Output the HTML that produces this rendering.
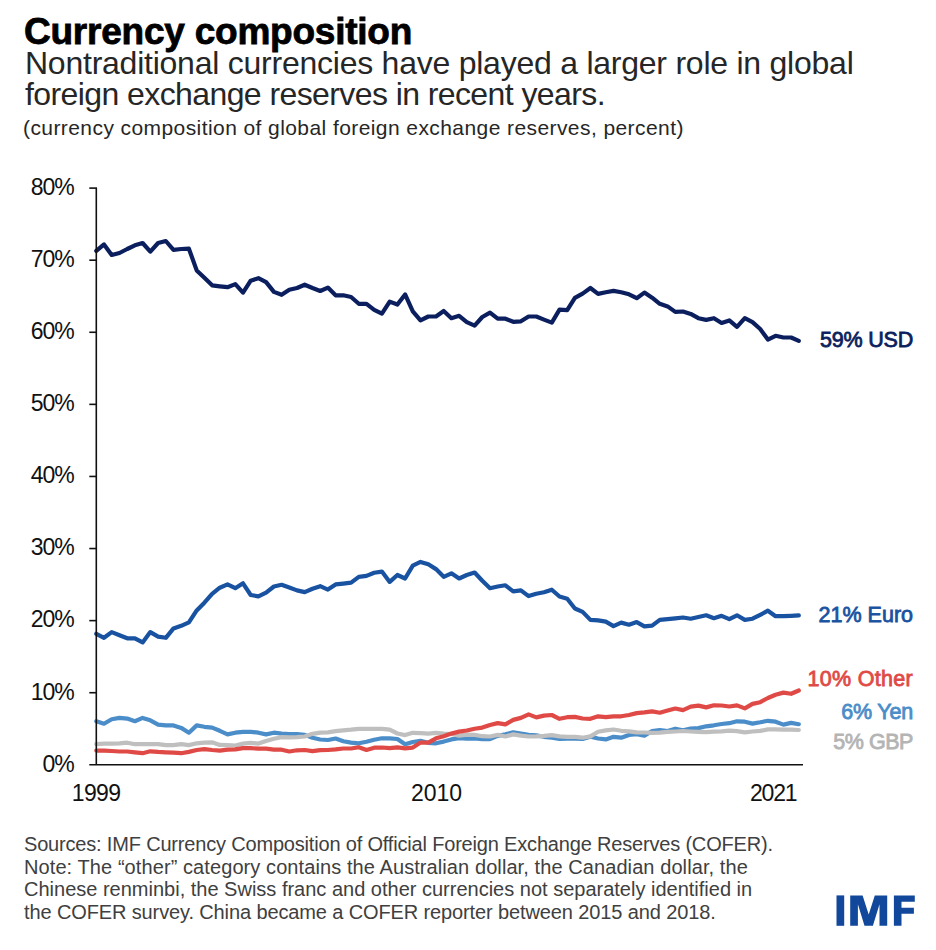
<!DOCTYPE html>
<html><head><meta charset="utf-8"><style>
html,body{margin:0;padding:0;background:#fff;width:936px;height:950px;overflow:hidden}
body{position:relative;font-family:"Liberation Sans",sans-serif}
.t{position:absolute;white-space:nowrap}
.yl{right:862.2px;font-size:23px;line-height:23px;color:#111;letter-spacing:-1.0px}
.xl{font-size:23px;line-height:23px;color:#111;top:782.2304999999999px;letter-spacing:0px}
.sl{right:23px;font-size:21.5px;line-height:21.5px;font-weight:normal;-webkit-text-stroke:0.8px currentColor}
.ft{left:24px;font-size:20px;line-height:20px;color:#404040}
svg{position:absolute;left:0;top:0}
</style></head><body>
<div class="t" style="left:24px;top:13.2px;font-size:37px;line-height:37px;font-weight:bold;color:#000;-webkit-text-stroke:0.8px #000;letter-spacing:-0.23px">Currency composition</div>
<div class="t" style="left:25px;top:46.8px;font-size:32px;line-height:32px;color:#262626;letter-spacing:-0.24px">Nontraditional currencies have played a larger role in global</div>
<div class="t" style="left:25px;top:77.8px;font-size:32px;line-height:32px;color:#262626;letter-spacing:-0.59px">foreign exchange reserves in recent years.</div>
<div class="t" style="left:23px;top:117.2235px;font-size:21px;line-height:21px;color:#262626;letter-spacing:0.42px">(currency composition of global foreign exchange reserves, percent)</div>
<div class="t yl" style="top:752.63px">0%</div>
<div class="t yl" style="top:680.55px">10%</div>
<div class="t yl" style="top:608.46px">20%</div>
<div class="t yl" style="top:536.37px">30%</div>
<div class="t yl" style="top:464.28px">40%</div>
<div class="t yl" style="top:392.19px">50%</div>
<div class="t yl" style="top:320.11px">60%</div>
<div class="t yl" style="top:248.02px">70%</div>
<div class="t yl" style="top:175.93px">80%</div>
<div class="t xl" style="left:71.7px;letter-spacing:-0.6px">1999</div>
<div class="t xl" style="left:411px;letter-spacing:0px">2010</div>
<div class="t xl" style="left:750px;letter-spacing:-1.2px">2021</div>
<svg width="936" height="950" viewBox="0 0 936 950">

<g fill="none" stroke-width="4.2" stroke-linejoin="round" stroke-linecap="round">
<path stroke="#0b1f5e" d="M96.3,250.8 L104.0,244.4 L111.7,255.0 L119.5,253.0 L127.2,249.0 L134.9,245.3 L142.6,243.0 L150.3,251.6 L158.1,243.0 L165.8,241.0 L173.5,249.9 L181.2,249.0 L188.9,248.7 L196.7,270.4 L204.4,277.8 L212.1,285.3 L219.8,286.3 L227.5,287.2 L235.3,284.1 L243.0,292.6 L250.7,280.7 L258.4,278.2 L266.1,282.1 L273.9,291.9 L281.6,294.8 L289.3,289.7 L297.0,288.0 L304.7,284.7 L312.5,288.0 L320.2,291.0 L327.9,287.6 L335.6,295.3 L343.3,295.3 L351.1,297.0 L358.8,303.8 L366.5,303.8 L374.2,309.8 L381.9,313.6 L389.7,301.6 L397.4,304.5 L405.1,294.4 L412.8,311.4 L420.5,320.4 L428.3,316.5 L436.0,316.5 L443.7,311.0 L451.4,318.2 L459.1,315.8 L466.8,322.1 L474.6,325.6 L482.3,317.0 L490.0,312.7 L497.7,318.7 L505.4,318.7 L513.2,321.8 L520.9,321.3 L528.6,316.5 L536.3,316.5 L544.0,319.6 L551.8,322.6 L559.5,309.7 L567.2,310.2 L574.9,297.9 L582.6,293.6 L590.4,288.0 L598.1,293.9 L605.8,292.2 L613.5,290.9 L621.2,292.2 L629.0,294.3 L636.7,298.2 L644.4,292.6 L652.1,297.7 L659.8,303.8 L667.6,306.4 L675.3,311.9 L683.0,311.5 L690.7,313.9 L698.4,318.2 L706.2,319.9 L713.9,318.2 L721.6,323.0 L729.3,320.4 L737.0,326.8 L744.8,318.2 L752.5,322.1 L760.2,329.0 L767.9,339.6 L775.6,335.8 L783.4,337.5 L791.1,337.5 L798.8,340.9"/>
<path stroke="#1852a0" d="M96.3,633.8 L104.0,637.8 L111.7,632.1 L119.5,635.2 L127.2,638.3 L134.9,638.3 L142.6,642.4 L150.3,632.1 L158.1,636.6 L165.8,637.8 L173.5,628.4 L181.2,625.8 L188.9,622.4 L196.7,610.4 L204.4,602.7 L212.1,593.8 L219.8,587.7 L227.5,584.4 L235.3,588.2 L243.0,583.3 L250.7,595.0 L258.4,596.4 L266.1,592.6 L273.9,586.5 L281.6,584.8 L289.3,587.5 L297.0,590.4 L304.7,592.1 L312.5,588.7 L320.2,586.2 L327.9,589.6 L335.6,584.4 L343.3,583.6 L351.1,582.7 L358.8,576.8 L366.5,575.9 L374.2,572.8 L381.9,571.6 L389.7,581.9 L397.4,575.0 L405.1,578.5 L412.8,565.6 L420.5,561.9 L428.3,564.3 L436.0,569.1 L443.7,576.8 L451.4,573.3 L459.1,578.5 L466.8,575.0 L474.6,572.5 L482.3,580.7 L490.0,588.2 L497.7,586.5 L505.4,585.3 L513.2,591.3 L520.9,590.4 L528.6,596.1 L536.3,593.8 L544.0,592.3 L551.8,589.7 L559.5,596.5 L567.2,598.7 L574.9,608.5 L582.6,611.9 L590.4,619.9 L598.1,620.4 L605.8,621.6 L613.5,626.1 L621.2,622.6 L629.0,624.7 L636.7,622.1 L644.4,626.4 L652.1,625.6 L659.8,619.9 L667.6,619.2 L675.3,618.4 L683.0,617.5 L690.7,618.7 L698.4,617.0 L706.2,615.3 L713.9,618.2 L721.6,615.8 L729.3,619.2 L737.0,615.3 L744.8,619.9 L752.5,618.7 L760.2,614.8 L767.9,610.7 L775.6,616.2 L783.4,616.2 L791.1,615.8 L798.8,615.3"/>
<path stroke="#4b8dc9" d="M96.3,721.2 L104.0,723.7 L111.7,719.2 L119.5,717.9 L127.2,718.6 L134.9,721.2 L142.6,717.9 L150.3,720.3 L158.1,724.6 L165.8,725.4 L173.5,725.4 L181.2,727.9 L188.9,732.7 L196.7,725.4 L204.4,726.8 L212.1,727.6 L219.8,730.8 L227.5,734.4 L235.3,732.7 L243.0,731.8 L250.7,731.8 L258.4,732.7 L266.1,734.4 L273.9,732.7 L281.6,733.6 L289.3,734.0 L297.0,734.0 L304.7,734.9 L312.5,737.8 L320.2,739.5 L327.9,740.0 L335.6,738.5 L343.3,741.3 L351.1,742.6 L358.8,743.3 L366.5,741.7 L374.2,739.7 L381.9,738.3 L389.7,738.4 L397.4,739.0 L405.1,744.3 L412.8,742.0 L420.5,740.8 L428.3,742.8 L436.0,743.3 L443.7,741.6 L451.4,739.4 L459.1,738.2 L466.8,738.7 L474.6,738.5 L482.3,739.1 L490.0,739.1 L497.7,735.9 L505.4,734.4 L513.2,732.3 L520.9,733.6 L528.6,734.9 L536.3,735.4 L544.0,736.8 L551.8,737.7 L559.5,739.0 L567.2,738.7 L574.9,738.7 L582.6,739.0 L590.4,736.8 L598.1,738.5 L605.8,739.4 L613.5,736.8 L621.2,737.7 L629.0,734.9 L636.7,734.2 L644.4,735.6 L652.1,731.0 L659.8,730.0 L667.6,731.0 L675.3,728.7 L683.0,730.3 L690.7,728.5 L698.4,728.1 L706.2,726.3 L713.9,725.3 L721.6,724.0 L729.3,723.2 L737.0,721.3 L744.8,721.7 L752.5,723.6 L760.2,722.3 L767.9,720.8 L775.6,721.7 L783.4,724.6 L791.1,722.9 L798.8,724.2"/>
<path stroke="#bfbfbf" d="M96.3,744.2 L104.0,743.6 L111.7,743.6 L119.5,743.3 L127.2,742.7 L134.9,744.2 L142.6,744.2 L150.3,744.2 L158.1,744.2 L165.8,745.1 L173.5,745.1 L181.2,744.2 L188.9,745.1 L196.7,743.3 L204.4,742.6 L212.1,742.3 L219.8,744.9 L227.5,745.1 L235.3,745.5 L243.0,743.6 L250.7,742.9 L258.4,743.6 L266.1,741.0 L273.9,738.8 L281.6,737.2 L289.3,737.4 L297.0,737.2 L304.7,736.5 L312.5,733.8 L320.2,732.7 L327.9,732.3 L335.6,731.2 L343.3,730.4 L351.1,729.7 L358.8,728.8 L366.5,728.8 L374.2,728.8 L381.9,728.9 L389.7,729.7 L397.4,733.5 L405.1,735.1 L412.8,732.8 L420.5,733.1 L428.3,733.6 L436.0,732.8 L443.7,733.6 L451.4,734.0 L459.1,735.6 L466.8,734.6 L474.6,734.9 L482.3,736.2 L490.0,736.5 L497.7,734.9 L505.4,736.5 L513.2,734.4 L520.9,735.6 L528.6,736.5 L536.3,736.4 L544.0,735.9 L551.8,735.1 L559.5,736.4 L567.2,736.8 L574.9,736.8 L582.6,737.7 L590.4,736.4 L598.1,731.7 L605.8,730.4 L613.5,729.5 L621.2,730.8 L629.0,731.3 L636.7,732.3 L644.4,732.5 L652.1,732.8 L659.8,732.6 L667.6,731.9 L675.3,731.5 L683.0,731.0 L690.7,731.5 L698.4,731.9 L706.2,732.2 L713.9,731.7 L721.6,731.4 L729.3,730.6 L737.0,731.2 L744.8,732.3 L752.5,731.5 L760.2,730.9 L767.9,729.4 L775.6,729.4 L783.4,729.7 L791.1,729.7 L798.8,730.0"/>
<path stroke="#e04a46" d="M96.3,750.6 L104.0,750.6 L111.7,751.0 L119.5,751.5 L127.2,751.5 L134.9,752.3 L142.6,753.2 L150.3,751.3 L158.1,751.9 L165.8,752.3 L173.5,752.6 L181.2,753.2 L188.9,751.9 L196.7,750.0 L204.4,749.2 L212.1,750.0 L219.8,750.6 L227.5,749.7 L235.3,749.4 L243.0,748.1 L250.7,748.1 L258.4,748.7 L266.1,748.7 L273.9,749.7 L281.6,749.7 L289.3,751.5 L297.0,750.3 L304.7,750.0 L312.5,751.2 L320.2,750.2 L327.9,750.0 L335.6,749.4 L343.3,748.5 L351.1,748.5 L358.8,747.2 L366.5,750.0 L374.2,747.7 L381.9,747.5 L389.7,748.2 L397.4,747.4 L405.1,748.3 L412.8,747.6 L420.5,742.5 L428.3,742.6 L436.0,738.3 L443.7,736.2 L451.4,733.6 L459.1,731.6 L466.8,730.5 L474.6,728.8 L482.3,727.6 L490.0,725.0 L497.7,723.1 L505.4,724.4 L513.2,719.9 L520.9,717.9 L528.6,714.4 L536.3,717.4 L544.0,715.6 L551.8,715.0 L559.5,718.8 L567.2,717.2 L574.9,716.9 L582.6,718.5 L590.4,718.8 L598.1,716.3 L605.8,717.2 L613.5,716.3 L621.2,716.3 L629.0,715.0 L636.7,713.1 L644.4,712.4 L652.1,711.4 L659.8,712.7 L667.6,710.5 L675.3,708.5 L683.0,710.1 L690.7,706.7 L698.4,705.6 L706.2,707.4 L713.9,705.3 L721.6,705.5 L729.3,706.5 L737.0,705.4 L744.8,708.4 L752.5,703.9 L760.2,702.2 L767.9,698.0 L775.6,694.7 L783.4,692.6 L791.1,693.8 L798.8,690.5"/>
</g>
<g stroke="#111" stroke-width="1.6" fill="none">
<line x1="96.3" y1="188.10" x2="96.3" y2="764.8"/>
<line x1="89.3" y1="764.8" x2="803" y2="764.8"/>
<line x1="89.3" y1="692.71" x2="97" y2="692.71"/><line x1="89.3" y1="620.62" x2="97" y2="620.62"/><line x1="89.3" y1="548.54" x2="97" y2="548.54"/><line x1="89.3" y1="476.45" x2="97" y2="476.45"/><line x1="89.3" y1="404.36" x2="97" y2="404.36"/><line x1="89.3" y1="332.27" x2="97" y2="332.27"/><line x1="89.3" y1="260.18" x2="97" y2="260.18"/><line x1="89.3" y1="188.10" x2="97" y2="188.10"/>
</g>
</svg>
<div class="t sl" style="top:330.30025px;color:#0b1f5e;letter-spacing:-0.2px">59% USD</div>
<div class="t sl" style="top:605.30025px;color:#1852a0;letter-spacing:0.0px">21% Euro</div>
<div class="t sl" style="top:668.90025px;color:#e04a46;letter-spacing:0.3px">10% Other</div>
<div class="t sl" style="top:701.70025px;color:#4b8dc9;letter-spacing:-0.2px">6% Yen</div>
<div class="t sl" style="top:732.20025px;color:#b4b4b4;letter-spacing:-0.45px">5% GBP</div>
<div class="t ft" style="top:834.2700000000001px;letter-spacing:-0.18px">Sources: IMF Currency Composition of Official Foreign Exchange Reserves (COFER).</div>
<div class="t ft" style="top:856.87px;letter-spacing:0.086px">Note: The “other” category contains the Australian dollar, the Canadian dollar, the</div>
<div class="t ft" style="top:879.47px;letter-spacing:0.0px">Chinese renminbi, the Swiss franc and other currencies not separately identified in</div>
<div class="t ft" style="top:902.07px;letter-spacing:-0.12px">the COFER survey. China became a COFER reporter between 2015 and 2018.</div>
<svg width="936" height="950" viewBox="0 0 936 950"><g fill="#12489b">
<rect x="836.5" y="895.4" width="7.7" height="30.4"/>
<polygon points="850.2,925.8 850.2,895.4 862.6,895.4 868.7,914.6 874.8,895.4 887.2,895.4 887.2,925.8 879.5,925.8 879.5,904.2 872.9,925.8 864.5,925.8 857.9,904.2 857.9,925.8"/>
<polygon points="893.9,925.8 893.9,895.4 914.8,895.4 914.8,901.8 901.5,901.8 901.5,907.7 913.9,907.7 913.9,913.8 901.5,913.8 901.5,925.8"/>
</g></svg>
</body></html>
